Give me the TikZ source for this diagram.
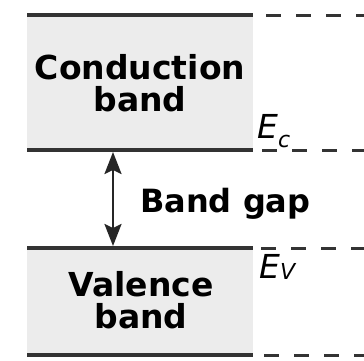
\documentclass[tikz,border=0pt]{standalone}
\usepackage{fontspec}
\setmainfont{DejaVu Sans}
\usetikzlibrary{arrows.meta}

\definecolor{bandgray}{HTML}{ECECEC}
\definecolor{edgegray}{HTML}{333333}

\tikzset{
  bandedge/.style={line width=3.2pt,edgegray},
  leveldash/.style={line width=3pt,edgegray,dash pattern=on 15pt off 15pt},
  bandlabel/.style={align=center,inner sep=0pt,font=\fontsize{33}{32}\bfseries\selectfont},
  levellabel/.style={anchor=base west,inner sep=0pt,font=\fontsize{33}{33}\itshape\selectfont},
  gaptip/.tip={Stealth[length=22pt,width=17pt,inset=4pt]},
}

\begin{document}
\begin{tikzpicture}[x=1pt,y=-1pt]
\useasboundingbox (0,0) rectangle (364,360);
% bands
\fill[bandgray] (27,15) rectangle (253,150);
\fill[bandgray] (27,248) rectangle (253,355);
% band edges
\coordinate (cbtop) at (27,15);
\coordinate (ec) at (27,150);
\coordinate (ev) at (27,248);
\coordinate (vbbot) at (27,355);
\draw[bandedge] (cbtop) -- ++(226,0);
\draw[bandedge] (ec) -- ++(226,0);
\draw[bandedge] (ev) -- ++(226,0);
\draw[bandedge] (vbbot) -- ++(226,0);
% levels to the right
\draw[leveldash] (266,15) -- (364,15);
\draw[leveldash] (262,150) -- (364,150);
\draw[leveldash] (261,248) -- (364,248);
\draw[leveldash] (264,355) -- (364,355);
% labels
\node[bandlabel] (cond) at (140,83) {Conduction\\band};
\node[bandlabel] (val) at (141,300) {Valence\\band};
\node[anchor=base west,inner sep=0pt,font=\fontsize{32}{32}\bfseries\selectfont] (gap) at (140,212) {Band gap};
\node[levellabel] (eclab) at (257,138) {E\raisebox{-9pt}{\fontsize{22}{22}\selectfont c}};
\node[levellabel] (evlab) at (259,278) {E\raisebox{-1pt}{\fontsize{22}{22}\selectfont V}};
% gap arrow
\coordinate (gaptop) at (113,152);
\coordinate (gapbot) at (113,246);
\draw[gaptip-gaptip,line width=2.4pt,black!85] (gaptop) -- (gapbot);
\end{tikzpicture}
\end{document}
